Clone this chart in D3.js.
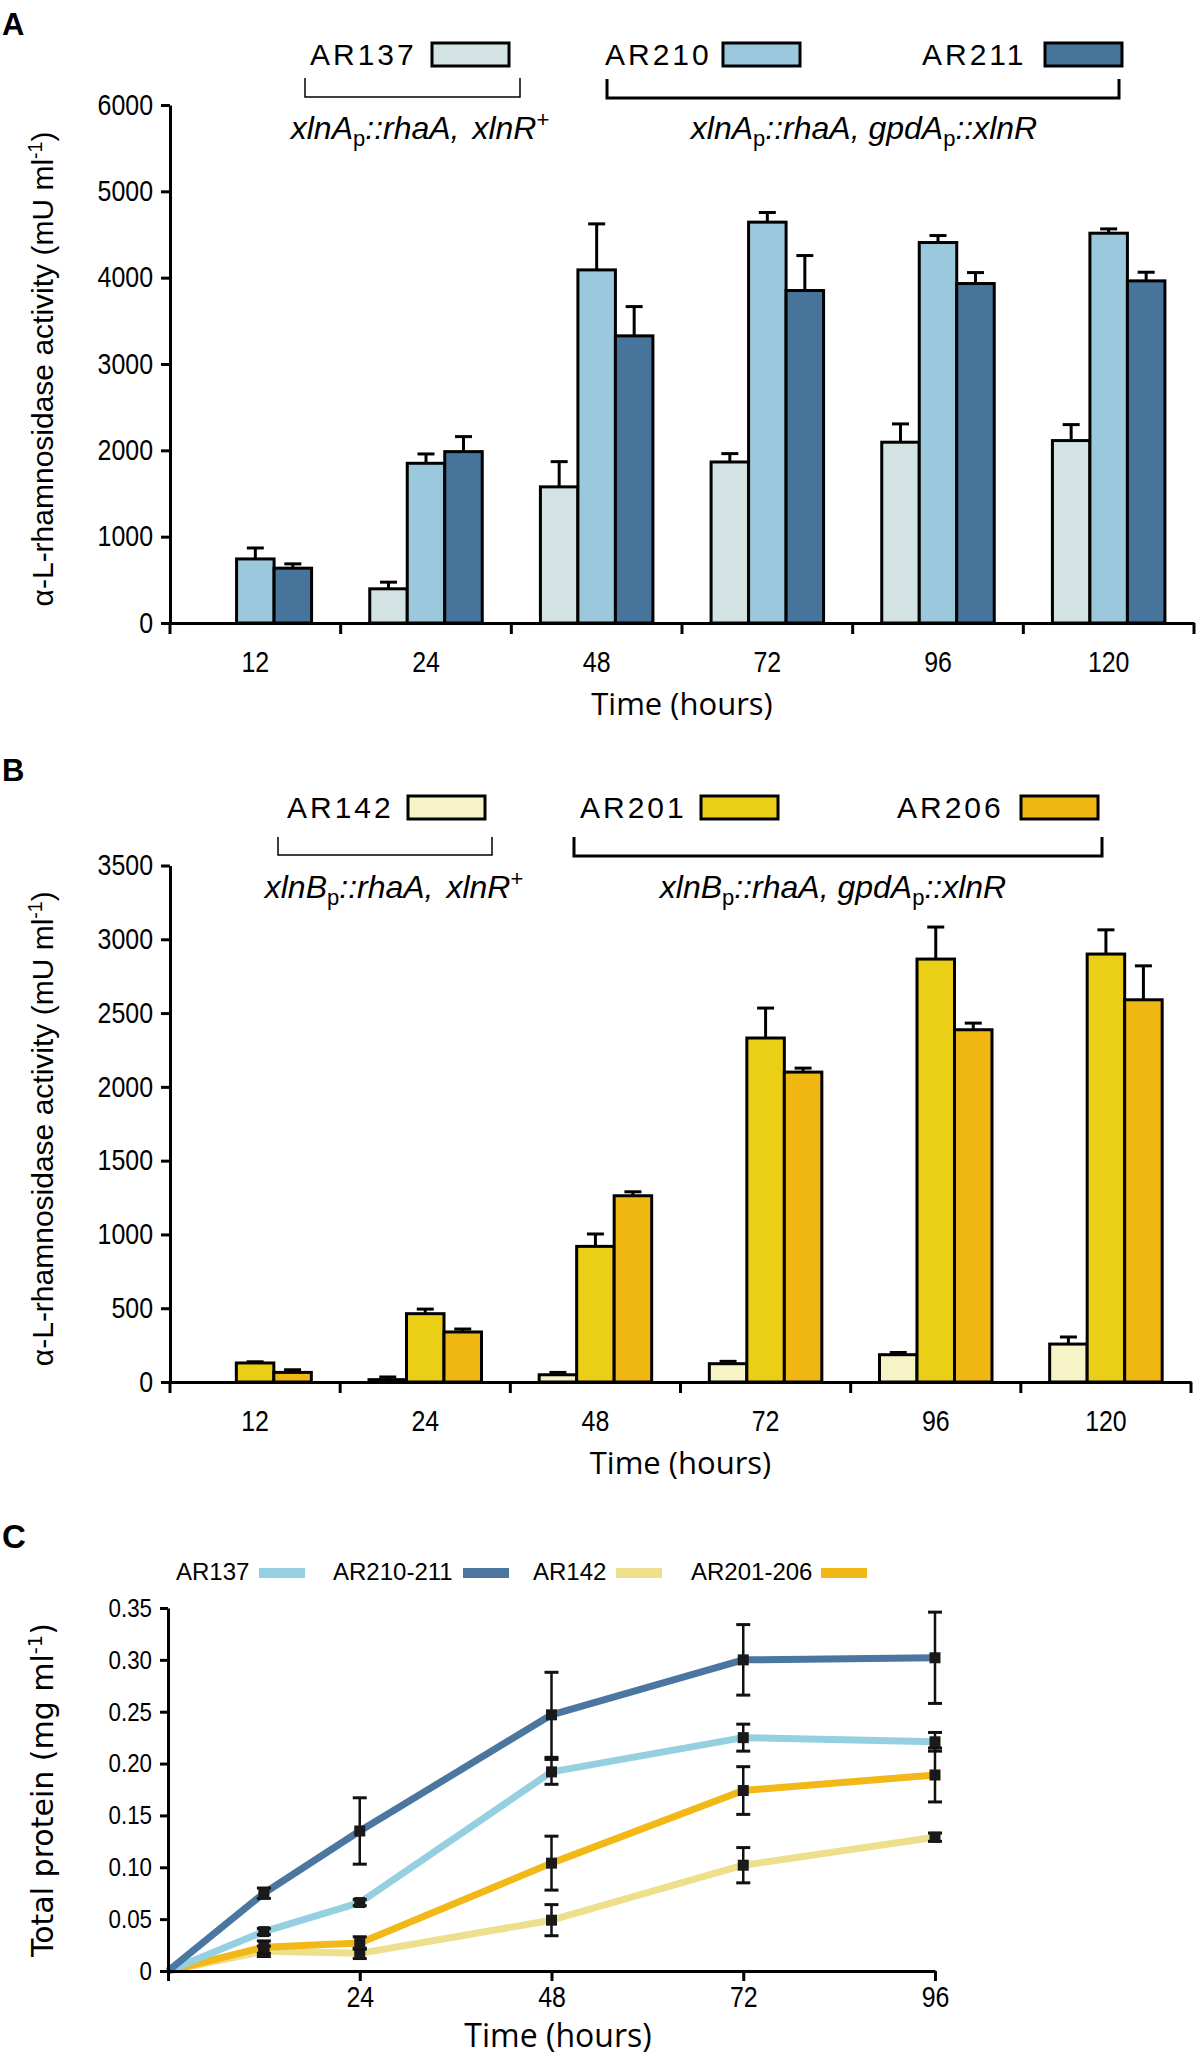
<!DOCTYPE html>
<html><head><meta charset="utf-8">
<script src="https://cdn.jsdelivr.net/npm/d3@7"></script>
<style>body{margin:0;background:#fff} svg{display:block}</style>
</head><body>
<svg id="chart" width="1200" height="2058"></svg>
<script>
// ---------------- DATA ----------------
const timesAB = ["12", "24", "48", "72", "96", "120"];

// Panel A (alpha-L-rhamnosidase activity, mU/ml)
const strainsA = ["AR137", "AR210", "AR211"];
const valsAR137 = [null, 396, 1577, 1865, 2094, 2113];
const errAR137  = [0, 77, 292, 97, 212, 185];
const valsAR210 = [742, 1850, 4090, 4643, 4407, 4515];
const errAR210  = [127, 108, 533, 112, 81, 50];
const valsAR211 = [635, 1985, 3326, 3851, 3932, 3963];
const errAR211  = [50, 174, 339, 405, 127, 100];
const yTicksA = [0, 1000, 2000, 3000, 4000, 5000, 6000];

// Panel B
const strainsB = ["AR142", "AR201", "AR206"];
const valsAR142 = [null, 16, 49, 124, 185, 257];
const errAR142  = [0, 18, 16, 16, 15, 48];
const valsAR201 = [129, 463, 919, 2331, 2866, 2900];
const errAR201  = [8, 31, 84, 203, 217, 164];
const valsAR206 = [65, 339, 1262, 2100, 2387, 2590];
const errAR206  = [18, 20, 27, 27, 45, 230];
const yTicksB = [0, 500, 1000, 1500, 2000, 2500, 3000, 3500];

// Panel C (total protein, mg/ml)
const timesC = [0, 12, 24, 48, 72, 96];
const seriesC = ["AR137", "AR210-211", "AR142", "AR201-206"];
const protAR137    = [0, 0.038, 0.066, 0.192, 0.225, 0.221];
const protErrAR137 = [0, 0.003, 0.003, 0.012, 0.013, 0.009];
const protAR210    = [0, 0.075, 0.135, 0.247, 0.300, 0.302];
const protErrAR210 = [0, 0.005, 0.032, 0.041, 0.034, 0.044];
const protAR142    = [0, 0.019, 0.017, 0.049, 0.102, 0.129];
const protErrAR142 = [0, 0.005, 0.005, 0.015, 0.017, 0.004];
const protAR201    = [0, 0.023, 0.027, 0.104, 0.174, 0.189];
const protErrAR201 = [0, 0.006, 0.006, 0.026, 0.023, 0.026];
const yTicksC = [0, 0.05, 0.10, 0.15, 0.20, 0.25, 0.30, 0.35];
const xTicksC = [0, 24, 48, 72, 96];

// ---------------- STYLE ----------------
const colorsA = ["#d3e3e3", "#9cc8dd", "#46749b"];
const colorsB = ["#f6f3c6", "#ebcf17", "#f0b712"];
const colorsC = ["#95d0e0", "#4a76a0", "#eddf8c", "#f1b817"];
const SANS = "'Liberation Sans', Arial, Helvetica, sans-serif";
const OPEN = "'Open Sans', 'Liberation Sans', sans-serif";
const COND = 0.86;

const svg = d3.select("#chart");
svg.append("rect").attr("width", 1200).attr("height", 2058).attr("fill", "#fff");

function letter(t, x, y, fs) {
  svg.append("text").attr("x", x).attr("y", y).attr("font-family", SANS)
    .attr("font-weight", "bold").attr("font-size", fs).attr("fill", "#000").text(t);
}

function styleAxis(ax, fs) {
  ax.attr("font-size", fs).attr("font-family", SANS);
  ax.select(".domain").attr("stroke", "#000").attr("stroke-width", 3);
  ax.selectAll(".tick line").attr("stroke", "#000").attr("stroke-width", 3);
  ax.selectAll(".tick text").attr("fill", "#000");
}

// genotype label: parts [[text, kind]] kind: n normal-italic, s sub, p sup, g gap
function genotype(parts, cx, y) {
  const t = svg.append("text").attr("x", cx).attr("y", y).attr("text-anchor", "middle")
    .attr("font-family", SANS).attr("font-size", 32).attr("font-style", "italic").attr("fill", "#000");
  let shift = 0;
  parts.forEach(([s, k]) => {
    const sp = t.append("tspan").text(s);
    let target = 0;
    if (k === "s") { target = 7; sp.attr("font-size", 22).attr("font-style", "normal"); }
    if (k === "p") { target = -12; sp.attr("font-size", 22).attr("font-style", "normal"); }
    if (k === "g") { sp.attr("dx", 4); }
    if (target !== shift) { sp.attr("dy", target - shift); shift = target; }
  });
}

function yTitle(main, cx, cy, family, fs) {
  const t = svg.append("text").attr("transform", `translate(${cx},${cy}) rotate(-90)`)
    .attr("text-anchor", "middle").attr("font-family", family).attr("font-size", fs).attr("fill", "#000");
  t.append("tspan").text(main);
  t.append("tspan").attr("dy", -11).attr("font-size", fs * 0.65).text("-1");
  t.append("tspan").attr("dy", 11).text(")");
}

function barPanel(o) {
  const g = svg.append("g");
  const x = d3.scaleBand(o.times, [o.x0, o.x1]);
  const y = d3.scaleLinear([0, o.ymax], [o.yBottom, o.yTop]);
  const groupW = 112.5;
  const sub = d3.scaleBand(o.strains, [0, groupW]);
  const off = (x.bandwidth() - groupW) / 2;
  const rows = [];
  o.strains.forEach((s, j) => {
    o.times.forEach((t, i) => {
      if (o.values[j][i] != null) rows.push({ s, j, t, v: o.values[j][i], e: o.errors[j][i] });
    });
  });
  const cxOf = d => x(d.t) + off + sub(d.s) + sub.bandwidth() / 2;
  g.selectAll("rect.bar").data(rows).join("rect").attr("class", "bar")
    .attr("x", d => x(d.t) + off + sub(d.s)).attr("y", d => y(d.v))
    .attr("width", sub.bandwidth()).attr("height", d => y(0) - y(d.v))
    .attr("fill", d => o.colors[d.j]).attr("stroke", "#000").attr("stroke-width", 3);
  const er = rows.filter(d => d.e > 0);
  g.selectAll("line.ev").data(er).join("line").attr("class", "ev")
    .attr("x1", cxOf).attr("x2", cxOf).attr("y1", d => y(d.v)).attr("y2", d => y(d.v + d.e))
    .attr("stroke", "#000").attr("stroke-width", 3);
  g.selectAll("line.ec").data(er).join("line").attr("class", "ec")
    .attr("x1", d => cxOf(d) - 8.5).attr("x2", d => cxOf(d) + 8.5)
    .attr("y1", d => y(d.v + d.e)).attr("y2", d => y(d.v + d.e))
    .attr("stroke", "#000").attr("stroke-width", 3);

  // y axis
  const ay = svg.append("g").attr("transform", `translate(${o.x0},0)`)
    .call(d3.axisLeft(y).tickValues(o.yticks).tickSize(9).tickSizeOuter(0).tickFormat(d3.format("d")));
  styleAxis(ay, 29);
  ay.selectAll(".tick text").attr("x", -17 / COND).attr("transform", `scale(${COND},1)`);
  // x axis
  const ax = svg.append("g").attr("transform", `translate(0,${o.yBottom})`)
    .call(d3.axisBottom(x).tickSize(0).tickSizeOuter(0).tickPadding(28));
  styleAxis(ax, 29);
  ax.selectAll(".tick text").attr("transform", `scale(${COND},1)`);
  const edges = d3.range(o.times.length + 1).map(i => o.x0 + i * x.step());
  ax.selectAll("line.edge").data(edges).join("line").attr("class", "edge")
    .attr("x1", d => d).attr("x2", d => d).attr("y1", 0).attr("y2", 11)
    .attr("stroke", "#000").attr("stroke-width", 3);
  svg.append("text").attr("x", (o.x0 + o.x1) / 2).attr("y", o.yBottom + 92)
    .attr("text-anchor", "middle").attr("font-family", OPEN).attr("font-size", 31)
    .attr("fill", "#000").text("Time (hours)");
  yTitle("\u03b1-L-rhamnosidase activity (mU ml", 53, (o.yBottom + o.yTop) / 2 + 5, SANS, 30);

  // legend
  o.strains.forEach((s, j) => {
    svg.append("text").attr("x", o.legText[j]).attr("y", o.legBase)
      .attr("font-family", SANS).attr("font-size", 30).attr("letter-spacing", 3)
      .attr("fill", "#000").text(s);
    svg.append("rect").attr("x", o.legBox[j]).attr("y", o.legBase - 22).attr("width", 77).attr("height", 23)
      .attr("fill", o.colors[j]).attr("stroke", "#000").attr("stroke-width", 3);
  });
  o.brackets.forEach(b => {
    svg.append("path").attr("d", `M${b[0]},${b[2]}V${b[3]}H${b[1]}V${b[2]}`)
      .attr("fill", "none").attr("stroke", "#000").attr("stroke-width", b[4]);
  });
  genotype(o.geno1, o.genoX[0], o.genoBase);
  genotype(o.geno2, o.genoX[1], o.genoBase);
}

// ---------------- PANEL A ----------------
letter("A", 2, 35, 31);
barPanel({
  times: timesAB, strains: strainsA, colors: colorsA,
  values: [valsAR137, valsAR210, valsAR211], errors: [errAR137, errAR210, errAR211],
  x0: 170, x1: 1194, yBottom: 623, yTop: 105, ymax: 6000, yticks: yTicksA,
  legText: [310, 605, 922], legBox: [432, 723, 1045], legBase: 65,
  brackets: [[305, 520, 78, 97, 1.5], [607, 1119, 79, 98, 3]],
  geno1: [["xlnA", "n"], ["p", "s"], ["::rhaA,", "n"], [" xlnR", "g"], ["+", "p"]],
  geno2: [["xlnA", "n"], ["p", "s"], ["::rhaA, gpdA", "n"], ["p", "s"], ["::xlnR", "n"]],
  genoX: [420, 864], genoBase: 139
});

// ---------------- PANEL B ----------------
letter("B", 2, 781, 31);
barPanel({
  times: timesAB, strains: strainsB, colors: colorsB,
  values: [valsAR142, valsAR201, valsAR206], errors: [errAR142, errAR201, errAR206],
  x0: 170, x1: 1191, yBottom: 1382, yTop: 865.5, ymax: 3500, yticks: yTicksB,
  legText: [287, 580, 897], legBox: [408, 701, 1021], legBase: 818,
  brackets: [[278, 492, 837, 855, 1.5], [574, 1102, 837, 856, 3]],
  geno1: [["xlnB", "n"], ["p", "s"], ["::rhaA,", "n"], [" xlnR", "g"], ["+", "p"]],
  geno2: [["xlnB", "n"], ["p", "s"], ["::rhaA, gpdA", "n"], ["p", "s"], ["::xlnR", "n"]],
  genoX: [394, 833], genoBase: 898
});

// ---------------- PANEL C ----------------
letter("C", 2, 1548, 33);
(function () {
  const x = d3.scaleLinear([0, 96], [168, 935]);
  const y = d3.scaleLinear([0, 0.35], [1971, 1608]);
  const vals = [protAR137, protAR210, protAR142, protAR201];
  const errs = [protErrAR137, protErrAR210, protErrAR142, protErrAR201];
  const order = [2, 3, 0, 1];
  const line = d3.line().x(d => x(d.t)).y(d => y(d.v));
  const g = svg.append("g");

  // axes
  const ay = svg.append("g").attr("transform", "translate(168,0)")
    .call(d3.axisLeft(y).tickValues(yTicksC).tickSize(8).tickSizeOuter(0)
      .tickFormat(d => d === 0 ? "0" : d3.format(".2f")(d)));
  styleAxis(ay, 26);
  ay.selectAll(".tick text").attr("x", -16 / COND).attr("transform", `scale(${COND},1)`);
  const ax = svg.append("g").attr("transform", "translate(0,1971)")
    .call(d3.axisBottom(x).tickValues(xTicksC).tickSize(10).tickSizeOuter(0).tickPadding(5)
      .tickFormat(d => d === 0 ? "" : d));
  styleAxis(ax, 29);
  ax.selectAll(".tick text").attr("transform", `scale(${COND},1)`);

  order.forEach(k => {
    const pts = timesC.map((t, i) => ({ t, v: vals[k][i], e: errs[k][i] }));
    g.append("path").datum(pts).attr("d", line).attr("fill", "none")
      .attr("stroke", colorsC[k]).attr("stroke-width", 7).attr("stroke-linejoin", "round");
  });
  order.forEach(k => {
    const pts = timesC.map((t, i) => ({ t, v: vals[k][i], e: errs[k][i] })).filter(d => d.t > 0);
    const gg = g.append("g");
    gg.selectAll("line.v").data(pts).join("line").attr("class", "v")
      .attr("x1", d => x(d.t)).attr("x2", d => x(d.t))
      .attr("y1", d => y(d.v - d.e)).attr("y2", d => y(d.v + d.e))
      .attr("stroke", "#111").attr("stroke-width", 2.5);
    [-1, 1].forEach(sgn => {
      gg.selectAll(null).data(pts).join("line")
        .attr("x1", d => x(d.t) - 7).attr("x2", d => x(d.t) + 7)
        .attr("y1", d => y(d.v + sgn * d.e)).attr("y2", d => y(d.v + sgn * d.e))
        .attr("stroke", "#111").attr("stroke-width", 3);
    });
    gg.selectAll("rect").data(pts).join("rect")
      .attr("x", d => x(d.t) - 5.5).attr("y", d => y(d.v) - 5.5)
      .attr("width", 11).attr("height", 11).attr("fill", "#1a1a1a");
  });

  // legend
  const legText = [176, 333, 533, 691];
  const legSw = [259, 463, 616, 821];
  seriesC.forEach((s, k) => {
    svg.append("text").attr("x", legText[k]).attr("y", 1580).attr("font-family", SANS)
      .attr("font-size", 24).attr("fill", "#000").text(s);
    svg.append("rect").attr("x", legSw[k]).attr("y", 1568).attr("width", 46).attr("height", 10)
      .attr("fill", colorsC[k]);
  });

  svg.append("text").attr("x", 558).attr("y", 2047).attr("text-anchor", "middle")
    .attr("font-family", OPEN).attr("font-size", 32).attr("fill", "#000").text("Time (hours)");
  yTitle("Total protein (mg ml", 53, 1790, "'DejaVu Sans', Verdana, sans-serif", 30);
})();
</script>
</body></html>
